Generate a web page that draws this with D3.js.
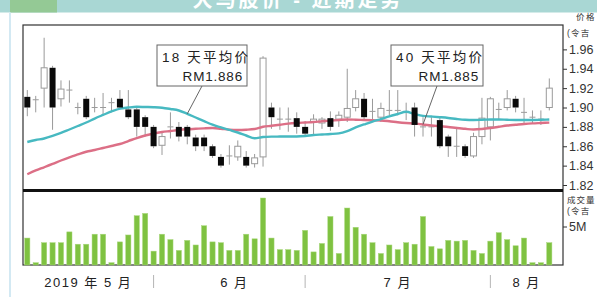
<!DOCTYPE html>
<html><head><meta charset="utf-8">
<script src="https://cdn.jsdelivr.net/npm/d3@7"></script>
<style>
html,body{margin:0;padding:0;background:#fff;overflow:hidden;}
svg{display:block;}
text{font-family:"Liberation Sans","Noto Sans CJK SC",sans-serif;}
</style></head><body>
<svg id="c" width="597" height="297"></svg>
<script>
// ---- data ----
const opens  = [1.911,1.908,1.920,1.941,1.909,1.918,1.900,1.909,1.900,1.900,1.905,1.909,1.898,1.898,1.890,1.880,1.861,1.880,1.880,1.880,1.869,1.869,1.860,1.849,1.850,1.849,1.849,1.842,1.849,1.900,1.888,1.888,1.889,1.880,1.885,1.884,1.889,1.888,1.890,1.900,1.909,1.896,1.890,1.897,1.897,1.895,1.900,1.880,1.880,1.887,1.870,1.860,1.860,1.850,1.870,1.880,1.898,1.900,1.909,1.895,1.890,1.888,1.900];
const highs  = [1.918,1.912,1.972,1.943,1.928,1.928,1.905,1.912,1.910,1.915,1.910,1.918,1.918,1.900,1.892,1.882,1.875,1.895,1.885,1.882,1.872,1.872,1.862,1.852,1.861,1.866,1.855,1.852,1.953,1.905,1.900,1.900,1.895,1.886,1.893,1.890,1.896,1.896,1.940,1.918,1.915,1.909,1.905,1.918,1.918,1.905,1.905,1.890,1.890,1.890,1.872,1.880,1.862,1.874,1.910,1.911,1.905,1.918,1.912,1.910,1.897,1.897,1.930];
const lows   = [1.891,1.895,1.900,1.877,1.901,1.905,1.893,1.888,1.895,1.893,1.895,1.898,1.888,1.870,1.870,1.858,1.851,1.868,1.865,1.862,1.855,1.855,1.848,1.838,1.841,1.845,1.838,1.838,1.839,1.878,1.877,1.875,1.873,1.871,1.872,1.878,1.876,1.880,1.885,1.896,1.887,1.888,1.885,1.892,1.892,1.887,1.870,1.870,1.870,1.858,1.849,1.849,1.848,1.848,1.862,1.866,1.888,1.897,1.895,1.882,1.883,1.882,1.897];
const closes = [1.900,1.908,1.941,1.900,1.919,1.918,1.900,1.890,1.900,1.900,1.905,1.900,1.890,1.880,1.880,1.860,1.870,1.880,1.870,1.870,1.860,1.860,1.850,1.840,1.850,1.860,1.840,1.848,1.951,1.890,1.888,1.888,1.880,1.873,1.888,1.888,1.880,1.892,1.899,1.909,1.890,1.896,1.899,1.897,1.897,1.895,1.882,1.880,1.880,1.860,1.860,1.860,1.850,1.870,1.889,1.909,1.898,1.909,1.900,1.895,1.890,1.888,1.920];
const volumes = [3.5,0.3,2.9,2.9,2.9,4.3,2.7,2.7,4.0,4.0,0.3,3.0,3.9,6.4,6.7,1.8,4.0,3.3,1.9,3.2,2.6,5.1,3.0,2.9,1.9,1.9,4.0,3.4,8.7,3.5,2.0,2.0,1.9,4.5,1.7,2.8,6.3,1.5,7.4,4.9,4.0,2.9,1.5,2.6,2.0,2.9,2.7,6.3,2.4,2.1,3.2,3.1,3.2,1.9,1.5,3.1,4.2,3.3,2.5,3.5,0.3,0.3,2.9];
const ma18 = [1.8644,1.8664,1.868,1.8706,1.8737,1.8773,1.8809,1.8845,1.8886,1.8923,1.8959,1.8989,1.900,1.9007,1.9005,1.9003,1.8998,1.8985,1.8969,1.8935,1.8897,1.8859,1.8822,1.8794,1.8768,1.8742,1.8711,1.8683,1.8695,1.8699,1.870,1.8701,1.8701,1.8706,1.8716,1.8721,1.8726,1.8733,1.8757,1.8794,1.8825,1.8855,1.8881,1.8909,1.8933,1.8956,1.8933,1.8914,1.8907,1.890,1.8892,1.8881,1.8873,1.8871,1.8873,1.8876,1.8876,1.8873,1.8871,1.8871,1.8871,1.8873,1.8876];
const ma40 = [1.8311,1.835,1.8383,1.8417,1.8453,1.8486,1.8515,1.8543,1.8561,1.8582,1.8603,1.8623,1.8654,1.8685,1.8711,1.8732,1.8747,1.8757,1.8768,1.8775,1.878,1.8785,1.8788,1.878,1.8771,1.8768,1.8771,1.8778,1.8801,1.8811,1.8822,1.8833,1.884,1.8845,1.885,1.8858,1.8865,1.8871,1.8876,1.8874,1.8871,1.8868,1.8866,1.8858,1.8848,1.884,1.8834,1.8825,1.8814,1.8806,1.8799,1.8788,1.878,1.8773,1.8778,1.8788,1.8801,1.8814,1.8822,1.883,1.8836,1.884,1.8844];
const priceTicks = [1.82,1.84,1.86,1.88,1.90,1.92,1.94,1.96];
const priceTickLabels = ["1.82","1.84","1.86","1.88","1.90","1.92","1.94","1.96"];
const volumeTicks = [5];
const volumeTickLabels = ["5M"];
const monthLabels = ["2019 年 5 月","6 月","7 月","8 月"];
const monthStarts = [15,33,55];
const maNotes = [
  {title:"18 天平均价", value:"RM1.886", idx:19, series:"ma18"},
  {title:"40 天平均价", value:"RM1.885", idx:47, series:"ma40"}
];
const priceAxisTitle = ["价格","(令吉"];
const volumeAxisTitle = ["成交量","(令吉"];
const headerTitle = "大马股价 - 近期走势";

// ---- layout ----
const svg = d3.select("#c");
const L = 23, R = 563, T = 25, PB = 190.5, VB = 265;
const x = d3.scaleLinear().domain([0, opens.length-1]).range([27.3, 549.3]);
const y = d3.scaleLinear().domain([1.82, 1.98]).range([185, 30]);
const yv = d3.scaleLinear().domain([0, 5]).range([265, 226.5]);

// header bar
svg.append("rect").attr("x",0).attr("y",0).attr("width",597).attr("height",12.5).attr("fill","#a9d7d4");
svg.append("rect").attr("x",10).attr("y",0).attr("width",47).attr("height",12.5).attr("fill","#94c995");
svg.append("text").attr("x",298).attr("y",7).attr("text-anchor","middle")
  .attr("font-size",20).attr("font-weight","bold").attr("fill","#ffffff")
  .attr("letter-spacing",3).text(headerTitle);
// light blue page edge
svg.append("rect").attr("x",9).attr("y",12.5).attr("width",2).attr("height",285).attr("fill","#d3e9f3");

// frame
svg.append("rect").attr("x",L).attr("y",T).attr("width",R-L).attr("height",VB-T)
  .attr("fill","none").attr("stroke","#333").attr("stroke-width",1.2);

// candles
const data = opens.map((o,i)=>({i,o,h:highs[i],l:lows[i],c:closes[i],v:volumes[i]}));
const bw = 6;
const g = svg.append("g");
data.forEach(d=>{
  const top = Math.max(d.o,d.c), bot = Math.min(d.o,d.c);
  g.append("line").attr("x1",x(d.i)).attr("x2",x(d.i)).attr("y1",y(d.h)).attr("y2",y(top))
    .attr("stroke","#9a9a9a").attr("stroke-width",1);
  g.append("line").attr("x1",x(d.i)).attr("x2",x(d.i)).attr("y1",y(bot)).attr("y2",y(d.l))
    .attr("stroke","#9a9a9a").attr("stroke-width",1);
});
data.filter(d=>d.c>d.o).forEach(d=>{
  g.append("rect").attr("x",x(d.i)-bw/2).attr("y",y(d.c)).attr("width",bw).attr("height",Math.max(1,y(d.o)-y(d.c)))
    .attr("fill","none").attr("stroke","#9a9a9a").attr("stroke-width",1);
});
data.filter(d=>d.c===d.o).forEach(d=>{
  g.append("line").attr("x1",x(d.i)-bw/2).attr("x2",x(d.i)+bw/2).attr("y1",y(d.c)).attr("y2",y(d.c))
    .attr("stroke","#9a9a9a").attr("stroke-width",1);
});
// MA lines
const line = d3.line().x((d,i)=>x(i)).y(d=>y(d)).curve(d3.curveMonotoneX);
svg.append("path").attr("d",line(ma40)).attr("fill","none").attr("stroke","#dc6f86").attr("stroke-width",2.4);
svg.append("path").attr("d",line(ma18)).attr("fill","none").attr("stroke","#47b9c1").attr("stroke-width",2.4);
data.filter(d=>d.c<d.o).forEach(d=>{
  svg.append("rect").attr("x",x(d.i)-bw/2).attr("y",y(d.o)).attr("width",bw).attr("height",Math.max(1,y(d.c)-y(d.o)))
    .attr("fill","#0a0a0a");
});

// annotation boxes
const boxes = [{x0:157,x1:247},{x0:391,x1:483}];
maNotes.forEach((n,k)=>{
  const b = boxes[k];
  const gb = svg.append("g");
  const arr = n.series==="ma18"?ma18:ma40;
  gb.append("line").attr("x1", b.x0 + (b.x1-b.x0)*0.5).attr("y1",86)
    .attr("x2", x(n.idx)).attr("y2", y(arr[n.idx]))
    .attr("stroke","#555").attr("stroke-width",0.9);
  gb.append("rect").attr("x",b.x0).attr("y",45).attr("width",b.x1-b.x0).attr("height",41)
    .attr("fill","#fff").attr("stroke","#666").attr("stroke-width",1);
  gb.append("text").attr("x",b.x0+5).attr("y",62).attr("font-size",13.5).attr("fill","#222")
    .attr("letter-spacing",2.2).text(n.title);
  gb.append("text").attr("x",b.x1-4).attr("y",81).attr("font-size",13.5).attr("fill","#222")
    .attr("text-anchor","end").attr("letter-spacing",0.8).text(n.value);
});

// separator between price and volume
svg.append("line").attr("x1",L).attr("x2",R).attr("y1",PB).attr("y2",PB).attr("stroke","#111").attr("stroke-width",3);

// volume bars
svg.append("g").selectAll("rect").data(data).join("rect")
  .attr("x",d=>x(d.i)-2.6).attr("width",5.2)
  .attr("y",d=>yv(d.v)).attr("height",d=>yv(0)-yv(d.v))
  .attr("fill","#7fc241").attr("stroke","#a7d77a").attr("stroke-width",0.5);

// right price axis
const ax = svg.append("g").attr("transform",`translate(${R},0)`)
  .call(d3.axisRight(y).tickValues(priceTicks).tickSize(4).tickPadding(2).tickFormat((d,i)=>priceTickLabels[i]));
ax.select(".domain").remove();
ax.selectAll("line").attr("stroke","#333");
ax.selectAll("text").attr("font-size",12.5).attr("fill","#333").attr("font-family","Liberation Sans, sans-serif");
const av = svg.append("g").attr("transform",`translate(${R},0)`)
  .call(d3.axisRight(yv).tickValues(volumeTicks).tickSize(4).tickPadding(2).tickFormat((d,i)=>volumeTickLabels[i]));
av.select(".domain").remove();
av.selectAll("line").attr("stroke","#333");
av.selectAll("text").attr("font-size",12.5).attr("fill","#333").attr("font-family","Liberation Sans, sans-serif");

// axis titles
svg.append("text").attr("x",576).attr("y",20).attr("font-size",8.5).attr("letter-spacing",1.5).attr("fill","#333").text(priceAxisTitle[0]);
svg.append("text").attr("x",567).attr("y",36).attr("font-size",8.5).attr("letter-spacing",1.2).attr("fill","#333").text(priceAxisTitle[1]);
svg.append("text").attr("x",567).attr("y",203).attr("font-size",8.5).attr("letter-spacing",1).attr("fill","#333").text(volumeAxisTitle[0]);
svg.append("text").attr("x",567).attr("y",214).attr("font-size",8.5).attr("letter-spacing",1.2).attr("fill","#333").text(volumeAxisTitle[1]);

// month separators + labels
const seps = monthStarts.map(i=>x(i));
seps.forEach(sx=>{
  svg.append("line").attr("x1",sx).attr("x2",sx).attr("y1",275).attr("y2",288).attr("stroke","#b5b5b5").attr("stroke-width",1);
});
const edges = [L, ...seps, R];
monthLabels.forEach((m,k)=>{
  svg.append("text").attr("x",(edges[k]+edges[k+1])/2 + (k===1?5:0)).attr("y",287).attr("text-anchor","middle")
    .attr("font-size",13).attr("fill","#222").attr("letter-spacing",1.5).text(m);
});
</script>
</body></html>
